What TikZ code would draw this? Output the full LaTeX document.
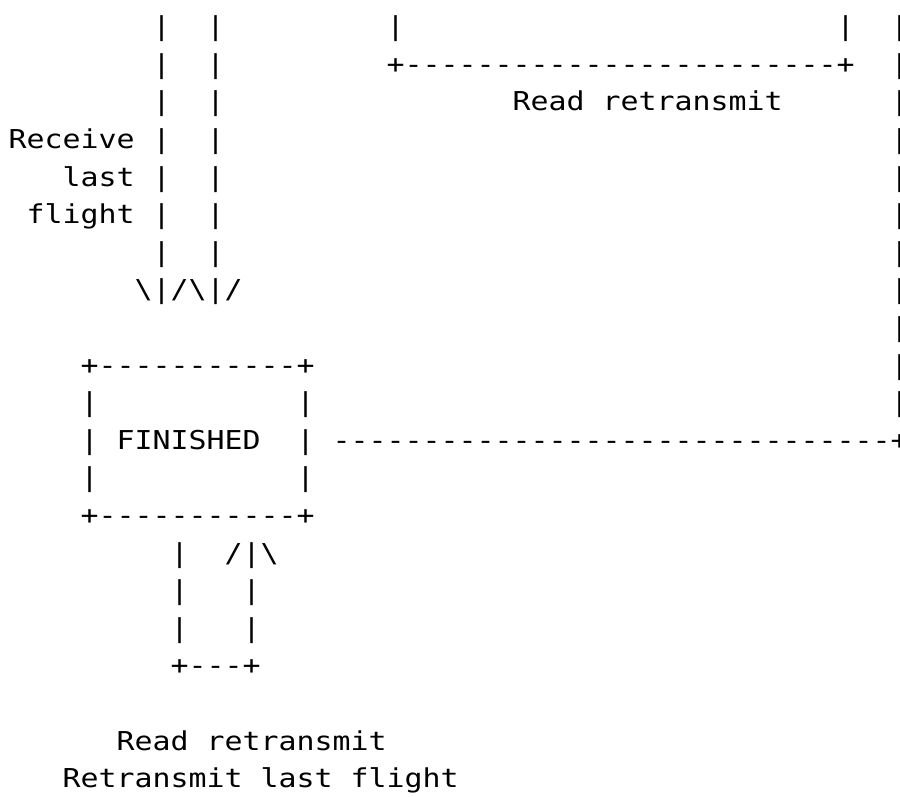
\documentclass[tikz,border=0pt]{standalone}
\usepackage{fontspec}
\setmonofont{DejaVu Sans Mono}[FakeStretch=1.15]
\tikzset{
  asc/.style={inner sep=0pt, outer sep=0pt, anchor=base west,
    font=\ttfamily\fontsize{13pt}{15pt}\selectfont},
}
\begin{document}
\begin{tikzpicture}[x=9pt,y=-18.8pt]
                \useasboundingbox (3.52,-0.952) rectangle (53.52,20.245);

                \node[asc] (pa0) at (12,0) {|};
                \node[asc] (pb0) at (15,0) {|};
                \node[asc] (pc0) at (25,0) {|};
                \node[asc] (pd0) at (50,0) {|};
                \node[asc] (pe0) at (53,0) {|};

                \node[asc] (pa1) at (12,1) {|};
                \node[asc] (pb1) at (15,1) {|};
                \node[asc] (timerbar) at (25,1) {+------------------------+};
                \node[asc] (pe1) at (53,1) {|};

                \node[asc] (pa2) at (12,2) {|};
                \node[asc] (pb2) at (15,2) {|};
                \node[asc] (readA) at (32,2) {Read retransmit};
                \node[asc] (pe2) at (53,2) {|};

                \node[asc] (recv) at (4,3) {Receive};
                \node[asc] (pa3) at (12,3) {|};
                \node[asc] (pb3) at (15,3) {|};
                \node[asc] (pe3) at (53,3) {|};

                \node[asc] (last) at (7,4) {last};
                \node[asc] (pa4) at (12,4) {|};
                \node[asc] (pb4) at (15,4) {|};
                \node[asc] (pe4) at (53,4) {|};

                \node[asc] (flight) at (5,5) {flight};
                \node[asc] (pa5) at (12,5) {|};
                \node[asc] (pb5) at (15,5) {|};
                \node[asc] (pe5) at (53,5) {|};

                \node[asc] (pa6) at (12,6) {|};
                \node[asc] (pb6) at (15,6) {|};
                \node[asc] (pe6) at (53,6) {|};

                \node[asc] (heads) at (11,7)
                    {\textbackslash|/\textbackslash|/};
                \node[asc] (pe7) at (53,7) {|};

                \node[asc] (pe8) at (53,8) {|};

                \node[asc] (boxtop) at (8,9) {+-----------+};
                \node[asc] (pe9) at (53,9) {|};

                \node[asc] (bl10) at (8,10) {|};
                \node[asc] (br10) at (20,10) {|};
                \node[asc] (pe10) at (53,10) {|};

                \node[asc] (bl11) at (8,11) {|};
                \node[asc] (finished) at (10,11) {FINISHED};
                \node[asc] (br11) at (20,11) {|};
                \node[asc] (backline) at (22,11)
                    {-------------------------------+};

                \node[asc] (bl12) at (8,12) {|};
                \node[asc] (br12) at (20,12) {|};

                \node[asc] (boxbot) at (8,13) {+-----------+};

                \node[asc] (la14) at (13,14) {|};
                \node[asc] (uphead) at (16,14) {/|\textbackslash};

                \node[asc] (la15) at (13,15) {|};
                \node[asc] (lb15) at (17,15) {|};

                \node[asc] (la16) at (13,16) {|};
                \node[asc] (lb16) at (17,16) {|};

                \node[asc] (loopbot) at (13,17) {+---+};

                \node[asc] (readB) at (10,19) {Read retransmit};
                \node[asc] (retx) at (7,20) {Retransmit last flight};
            \end{tikzpicture}
\end{document}
